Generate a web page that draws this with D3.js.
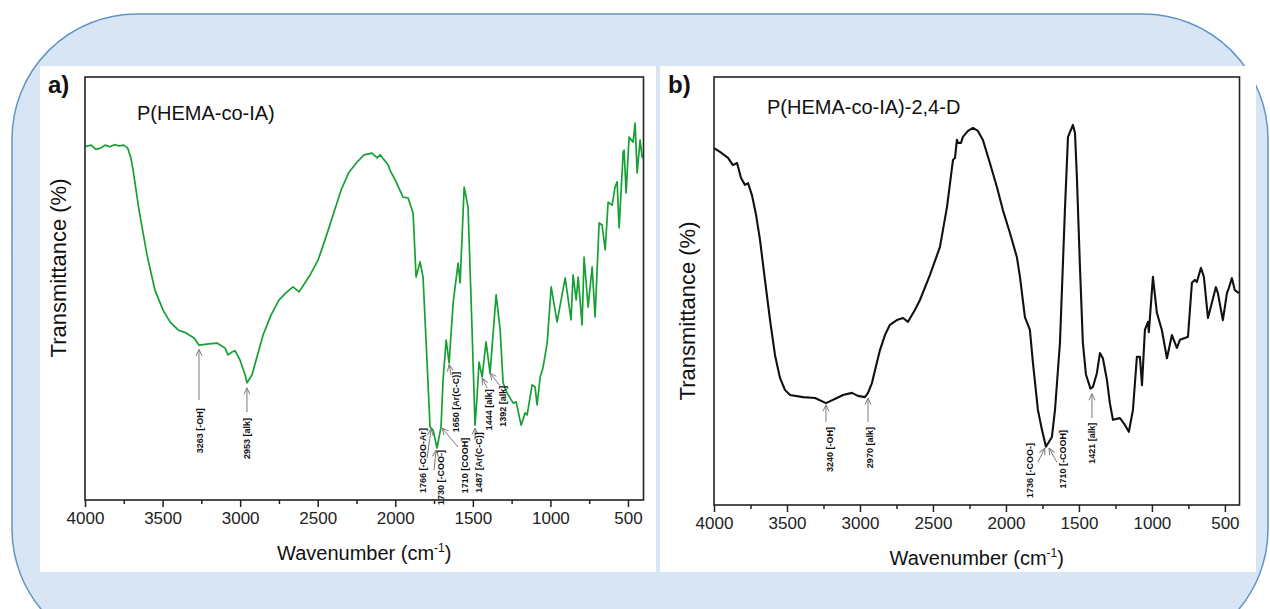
<!DOCTYPE html>
<html>
<head>
<meta charset="utf-8">
<script src="https://cdn.jsdelivr.net/npm/d3@7"></script>
<style>
  body { margin: 0; background: #fff; }
  svg { display: block; font-family: "Liberation Sans", Arial, sans-serif; }
</style>
</head>
<body>
<div id="chart"></div>
<script>
// wavenumber (cm-1) and transmittance (%, arbitrary 0-100)
let waveA = [4000, 3960, 3930, 3900, 3870, 3840, 3810, 3780, 3750, 3725, 3705, 3690, 3652, 3600, 3549,
  3497, 3452, 3400, 3349, 3297, 3265, 3201, 3149, 3097, 3078, 3052, 3033, 3001, 2968, 2956, 2923, 2897,
  2852, 2801, 2749, 2698, 2659, 2620, 2549, 2498, 2453, 2401, 2349, 2298, 2246, 2201, 2150, 2117, 2098,
  2046, 2034, 2001, 1950, 1917, 1885, 1866, 1840, 1821, 1795, 1776, 1756, 1731, 1705, 1692, 1672, 1653,
  1627, 1595, 1582, 1556, 1531, 1505, 1486, 1473, 1460, 1440, 1415, 1389, 1350, 1324, 1305, 1279, 1240,
  1221, 1189, 1163, 1150, 1118, 1099, 1086, 1066, 1047, 1021, 995, 957, 905, 867, 854, 834, 821, 796,
  783, 757, 731, 712, 686, 667, 647, 628, 602, 583, 570, 557, 531, 525, 512, 493, 467, 454, 441, 422,
  409, 403];
let transA = [83.5, 83.9, 82.9, 83.2, 83.9, 83.5, 84.0, 83.7, 83.9, 83.2, 81.0, 78.0, 68.6, 57.9, 49.6,
  44.9, 42.1, 40.2, 39.5, 38.3, 36.6, 36.9, 37.1, 35.9, 34.3, 35.0, 35.3, 33.1, 29.6, 27.7, 29.6, 33.1,
  39.0, 43.7, 47.3, 49.2, 50.4, 49.2, 53.2, 56.7, 61.5, 67.4, 73.3, 77.5, 79.9, 81.6, 82.0, 80.9, 81.6,
  79.2, 78.0, 75.7, 71.6, 71.4, 67.8, 52.7, 56.3, 52.7, 32.4, 17.3, 16.5, 12.3, 17.3, 28.4, 37.8, 32.4,
  46.6, 56.0, 51.3, 74.0, 69.3, 40.2, 17.7, 24.3, 32.6, 29.1, 37.4, 30.0, 48.5, 40.2, 27.7, 25.3, 22.9,
  23.2, 17.7, 20.6, 20.1, 27.2, 26.7, 22.5, 29.1, 31.4, 37.1, 50.4, 42.1, 52.5, 42.6, 53.2, 47.3, 52.7, 41.4,
  57.4, 45.6, 55.1, 43.3, 65.5, 65.0, 59.1, 70.4, 69.7, 74.0, 75.2, 64.3, 82.3, 82.7, 72.6, 85.8, 84.6, 89.1, 77.3, 85.1,
  81.1, 80.9];

let waveB = [4000, 3959, 3904, 3870, 3842, 3815, 3788, 3767, 3740, 3712, 3685, 3651, 3616, 3582, 3548,
  3514, 3479, 3390, 3308, 3233, 3158, 3116, 3055, 3014, 2966, 2945, 2918, 2897, 2863, 2829, 2795, 2747,
  2705, 2671, 2623, 2589, 2521, 2452, 2404, 2363, 2349, 2336, 2329, 2308, 2295, 2260, 2226, 2192, 2158,
  2110, 2062, 2021, 1973, 1925, 1904, 1870, 1836, 1815, 1781, 1753, 1726, 1685, 1664, 1630, 1596, 1575,
  1541, 1527, 1514, 1493, 1473, 1452, 1438, 1421, 1404, 1377, 1356, 1336, 1308, 1288, 1267, 1219, 1185,
  1158, 1130, 1103, 1082, 1068, 1048, 1027, 1021, 993, 966, 932, 897, 863, 829, 808, 774, 753, 726, 705,
  692, 664, 644, 616, 562, 548, 514, 486, 473, 452, 432, 404];
let transB = [83.4, 82.5, 81.1, 79.4, 79.9, 76.4, 74.8, 75.2, 72.4, 67.8, 62.0, 52.6, 43.2, 35.0, 29.7,
  26.9, 25.7, 25.2, 25.0, 23.8, 25.0, 25.7, 26.2, 25.5, 25.2, 26.2, 28.5, 31.5, 36.2, 39.7, 42.1, 43.2,
  43.7, 42.8, 45.6, 47.9, 53.7, 60.3, 69.6, 80.6, 81.1, 85.3, 84.6, 84.6, 86.0, 87.4, 88.1, 87.4, 85.3,
  79.9, 74.3, 68.9, 63.6, 57.9, 53.3, 43.9, 40.9, 33.2, 22.2, 17.5, 13.6, 15.9, 22.2, 37.9, 68.9, 86.0,
  88.8, 86.9, 76.6, 55.6, 37.9, 30.5, 29.0, 27.2, 27.6, 30.8, 35.5, 34.3, 29.2, 23.8, 19.9, 20.3, 18.7,
  17.1, 22.2, 34.6, 34.6, 28.0, 40.9, 42.8, 40.4, 53.3, 44.9, 40.9, 34.3, 39.7, 36.7, 38.6, 39.0, 39.3, 51.9, 52.6,
  52.1, 55.4, 53.3, 43.7, 50.9, 49.5, 43.2, 49.5, 50.7, 53.0, 50.2, 49.5];

let majorTicks = [4000, 3500, 3000, 2500, 2000, 1500, 1000, 500];
let minorTicks = [3750, 3250, 2750, 2250, 1750, 1250, 750];

// band assignments: label, arrow tip [wn, T], arrow tail [wn, T], label centre wn, label top T
let peaksA = [
  { text: '3263 [-OH]', tip: [3265, 35.6], tail: [3265, 23.6], lx: 3265, ly: 21.7 },
  { text: '2953 [alk]', tip: [2956, 26.5], tail: [2956, 20.8], lx: 2956, ly: 19.4 },
  { text: '1766 [-COO-Ar]', tip: [1769, 16.8], tail: [1795, 9.9], lx: 1827, ly: 17.0 },
  { text: '1730 [-COO-]', tip: [1737, 11.8], tail: [1750, 7.1], lx: 1711, ly: 11.8 },
  { text: '1650 [Ar(C-C)]', tip: [1653, 32.0], tail: [1640, 29.5], lx: 1614, ly: 30.3 },
  { text: '1710 [COOH]', tip: [1698, 17.0], tail: [1595, 12.5], lx: 1556, ly: 14.7 },
  { text: '1487 [Ar(C-C)]', tip: [1486, 17.0], tail: [1486, 14.2], lx: 1466, ly: 16.0 },
  { text: '1444 [alk]', tip: [1440, 28.8], tail: [1408, 26.5], lx: 1402, ly: 26.2 },
  { text: '1392 [alk]', tip: [1389, 30.0], tail: [1324, 27.0], lx: 1311, ly: 27.0 }
];
let peaksB = [
  { text: '3240 [-OH]', tip: [3233, 23.4], tail: [3233, 19.4], lx: 3212, ly: 18.2 },
  { text: '2970 [alk]', tip: [2945, 25.0], tail: [2945, 19.4], lx: 2938, ly: 18.2 },
  { text: '1736 [-COO-]', tip: [1733, 13.3], tail: [1781, 10.0], lx: 1836, ly: 14.5 },
  { text: '1710 [-COOH]', tip: [1705, 13.3], tail: [1651, 10.0], lx: 1610, ly: 17.5 },
  { text: '1421 [alk]', tip: [1411, 26.0], tail: [1411, 20.3], lx: 1411, ly: 19.2 }
];

var width = 1270,
    height = 609;

var svg = d3.select('#chart')
  .append('svg')
  .attr('width', width)
  .attr('height', height);

svg.append('defs')
  .append('marker')
  .attr('id', 'head')
  .attr('viewBox', '0 0 8 8')
  .attr('refX', 7.5)
  .attr('refY', 4)
  .attr('markerUnits', 'userSpaceOnUse')
  .attr('markerWidth', 8)
  .attr('markerHeight', 8)
  .attr('orient', 'auto')
  .append('path')
  .attr('d', 'M1,1 L7.5,4 L1,7')
  .attr('fill', 'none')
  .attr('stroke', '#7a7a7a')
  .attr('stroke-width', 1);

// rounded blue backdrop
svg.append('rect')
  .attr('x', 12)
  .attr('y', 14)
  .attr('width', 1256)
  .attr('height', 640)
  .attr('rx', 125)
  .attr('fill', '#d7e5f4')
  .attr('stroke', '#6394c4')
  .attr('stroke-width', 1.5);

function drawPanel(p) {
  svg.append('rect')
    .attr('x', p.box[0]).attr('y', p.box[1])
    .attr('width', p.box[2]).attr('height', p.box[3])
    .attr('fill', '#fff');

  var x = d3.scaleLinear().domain([4000, 400]).range([p.left, p.right]);
  var y = d3.scaleLinear().domain([0, 100]).range([p.bottom, p.top]);

  var g = svg.append('g');

  var minor = g.append('g')
    .attr('transform', 'translate(0,' + p.bottom + ')')
    .call(d3.axisBottom(x).tickValues(minorTicks).tickSize(4).tickFormat(''));
  minor.select('.domain').remove();
  minor.selectAll('line').attr('stroke', '#222').attr('stroke-width', 1.5);

  var major = g.append('g')
    .attr('transform', 'translate(0,' + p.bottom + ')')
    .call(d3.axisBottom(x).tickValues(majorTicks).tickSize(7).tickPadding(5).tickFormat(d3.format('d')));
  major.select('.domain').remove();
  major.selectAll('line').attr('stroke', '#222').attr('stroke-width', 1.5);
  major.selectAll('text')
    .attr('font-size', 17)
    .attr('fill', '#222')
    .attr('font-family', '"Liberation Sans", Arial, sans-serif');

  var line = d3.line()
    .x(function(d) { return x(d[0]); })
    .y(function(d) { return y(d[1]); });

  g.append('path')
    .datum(d3.zip(p.wave, p.trans))
    .attr('fill', 'none')
    .attr('stroke', p.color)
    .attr('stroke-width', p.lineWidth)
    .attr('stroke-linejoin', 'round')
    .attr('d', line);

  g.append('rect')
    .attr('x', p.left).attr('y', p.top)
    .attr('width', p.right - p.left).attr('height', p.bottom - p.top)
    .attr('fill', 'none')
    .attr('stroke', '#222')
    .attr('stroke-width', 1.6);

  // band arrows + rotated labels
  var peaks = g.selectAll('.peak').data(p.peaks).enter().append('g').attr('class', 'peak');
  peaks.append('line')
    .attr('x1', function(d) { return x(d.tail[0]); })
    .attr('y1', function(d) { return y(d.tail[1]); })
    .attr('x2', function(d) { return x(d.tip[0]); })
    .attr('y2', function(d) { return y(d.tip[1]); })
    .attr('stroke', '#7a7a7a')
    .attr('stroke-width', 1)
    .attr('marker-end', 'url(#head)');
  peaks.append('text')
    .attr('transform', function(d) {
      return 'translate(' + (x(d.lx) + 3.5) + ',' + y(d.ly) + ') rotate(-90)';
    })
    .attr('text-anchor', 'end')
    .attr('font-size', 9)
    .attr('font-weight', 'bold')
    .attr('fill', '#111')
    .text(function(d) { return d.text; });

  svg.append('text')
    .attr('x', p.box[0] + 8)
    .attr('y', p.top + 16)
    .attr('font-size', 24)
    .attr('font-weight', 'bold')
    .attr('fill', '#111')
    .text(p.letter);

  svg.append('text')
    .attr('x', p.titleX)
    .attr('y', p.titleY)
    .attr('font-size', 20)
    .attr('fill', '#111')
    .text(p.title);

  var xt = svg.append('text')
    .attr('x', (p.left + p.right) / 2)
    .attr('y', p.bottom + 60)
    .attr('text-anchor', 'middle')
    .attr('font-size', 20)
    .attr('fill', '#111');
  xt.append('tspan').text('Wavenumber (cm');
  xt.append('tspan').attr('dy', -8).attr('font-size', 12).text('-1');
  xt.append('tspan').attr('dy', 8).text(')');

  svg.append('text')
    .attr('transform', 'translate(' + (p.left - 19) + ',' + p.ytitleY + ') rotate(-90)')
    .attr('text-anchor', 'middle')
    .attr('font-size', 22)
    .attr('fill', '#111')
    .text('Transmittance (%)');
}

drawPanel({
  box: [40, 66, 616, 506], left: 85, right: 643.5, top: 77, bottom: 500,
  wave: waveA, trans: transA, peaks: peaksA,
  color: '#16a034', lineWidth: 1.7,
  letter: 'a)', title: 'P(HEMA-co-IA)', titleX: 137, titleY: 120, ytitleY: 268
});

drawPanel({
  box: [660, 66, 596, 506], left: 714, right: 1239.5, top: 77, bottom: 505,
  wave: waveB, trans: transB, peaks: peaksB,
  color: '#111', lineWidth: 2.1,
  letter: 'b)', title: 'P(HEMA-co-IA)-2,4-D', titleX: 767, titleY: 114, ytitleY: 311
});
</script>
</body>
</html>
